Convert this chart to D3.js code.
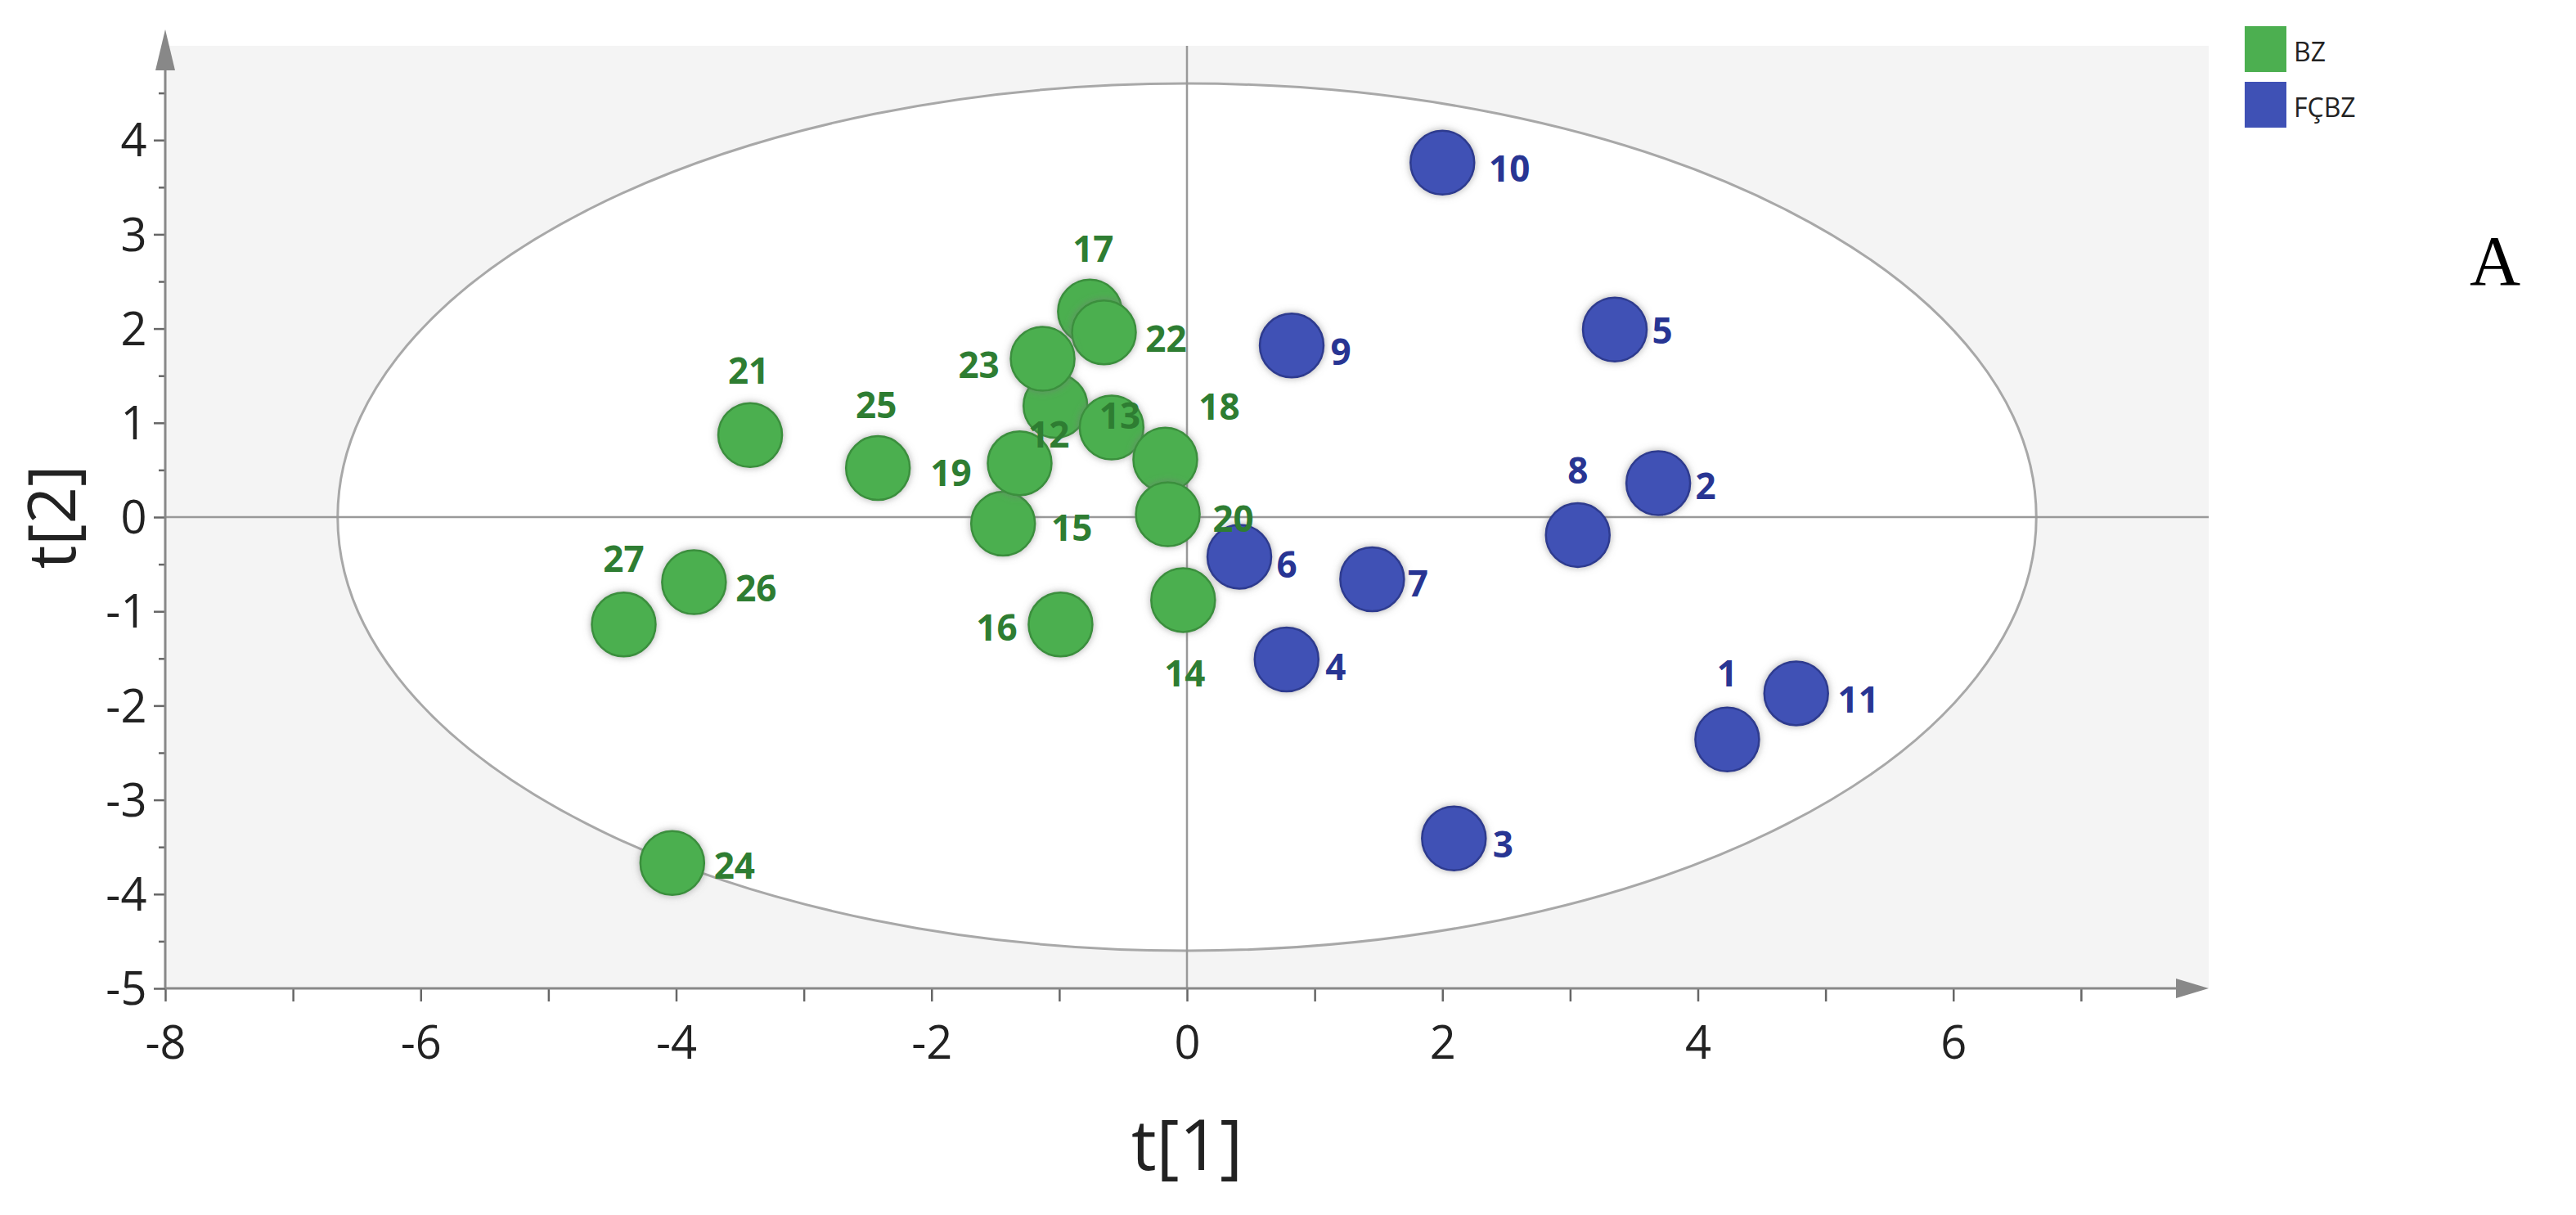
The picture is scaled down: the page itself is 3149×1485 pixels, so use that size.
<!DOCTYPE html>
<html><head><meta charset="utf-8">
<script src="https://cdn.jsdelivr.net/npm/d3@7"></script>
<style>body{margin:0;background:#fff}svg{display:block}</style>
</head><body>
<script>
const ids   = [1,2,3,4,5,6,7,8,9,10,11,12,13,14,15,16,17,18,19,20,21,22,23,24,25,26,27];
const groups= ["FCBZ","FCBZ","FCBZ","FCBZ","FCBZ","FCBZ","FCBZ","FCBZ","FCBZ","FCBZ","FCBZ",
               "BZ","BZ","BZ","BZ","BZ","BZ","BZ","BZ","BZ","BZ","BZ","BZ","BZ","BZ","BZ","BZ"];
const t1 = [4.23,3.69,2.09,0.78,3.35,0.41,1.45,3.06,0.82,2.00,4.77,
            -1.03,-0.59,-0.03,-1.44,-0.99,-0.76,-0.17,-1.31,-0.15,-3.42,-0.65,-1.13,-4.03,-2.42,-3.86,-4.41];
const t2 = [-2.36,0.36,-3.41,-1.51,1.99,-0.42,-0.66,-0.19,1.82,3.76,-1.87,
            1.18,0.95,-0.88,-0.07,-1.14,2.18,0.61,0.57,0.03,0.87,1.96,1.68,-3.67,0.52,-0.69,-1.14];
const legendLabels = ["BZ","FÇBZ"];
const xTicks = [-8,-6,-4,-2,0,2,4,6];
const yTicks = [-5,-4,-3,-2,-1,0,1,2,3,4];
const ellipseR = [6.65, 4.6];
// label placement (pixel offsets, style only)
const labelOff = {1:[0,-80],2:[58,4],3:[60,8],4:[60,10],5:[58,2],6:[58,10],7:[56,6],8:[0,-78],9:[60,8],10:[82,8],11:[76,8],
  12:[-8,36],13:[10,-14],14:[2,90],15:[84,6],16:[-78,4],17:[4,-76],18:[66,-64],19:[-84,12],20:[80,6],21:[-2,-78],22:[76,8],23:[-78,8],24:[76,4],25:[-2,-76],26:[76,8],27:[0,-80]};
const fill = {BZ:"#4caf50",FCBZ:"#3f51b5"}, stroke={BZ:"#3a8f3d",FCBZ:"#2d3b8f"}, lab={BZ:"#2e7d32",FCBZ:"#283593"};

const W=3149,H=1485;
const svg=d3.select("body").append("svg").attr("width",W).attr("height",H);
const L=202,R=2700,T=56,B=1208;
const x=d3.scaleLinear().domain([-8,8]).range([L,R]);
const y=d3.scaleLinear().domain([-5,5]).range([B,T]);
const defs=svg.append("defs");
const f=defs.append("filter").attr("id","glow").attr("x","-50%").attr("y","-50%").attr("width","200%").attr("height","200%");
f.append("feGaussianBlur").attr("in","SourceAlpha").attr("stdDeviation",5).attr("result","b");
f.append("feFlood").attr("flood-color","#777").attr("flood-opacity",0.6);
f.append("feComposite").attr("in2","b").attr("operator","in").attr("result","s");
const m=f.append("feMerge");m.append("feMergeNode").attr("in","s");m.append("feMergeNode").attr("in","SourceGraphic");

svg.append("rect").attr("x",L).attr("y",T).attr("width",R-L).attr("height",B-T).attr("fill","#f4f4f4");
svg.append("ellipse").attr("cx",x(0)).attr("cy",y(0)).attr("rx",x(ellipseR[0])-x(0)).attr("ry",y(0)-y(ellipseR[1]))
  .attr("fill","#fff").attr("stroke","#a8a8a8").attr("stroke-width",3);
svg.append("line").attr("x1",L).attr("x2",R).attr("y1",y(0)).attr("y2",y(0)).attr("stroke","#999").attr("stroke-width",2.5);
svg.append("line").attr("x1",x(0)).attr("x2",x(0)).attr("y1",T).attr("y2",B).attr("stroke","#999").attr("stroke-width",2.5);

// axes
const ax=svg.append("g").attr("transform",`translate(0,${B})`).call(d3.axisBottom(x).tickValues(d3.range(-8,8,1)).tickSize(16).tickFormat(d=>xTicks.includes(d)?d:""));
const ay=svg.append("g").attr("transform",`translate(${L},0)`).call(d3.axisLeft(y).tickValues(d3.range(-5,4.6,0.5)).tickSize(14).tickFormat(d=>yTicks.includes(d)?d:""));
[ax,ay].forEach(g=>{g.select(".domain").remove();g.selectAll("line").attr("stroke","#666").attr("stroke-width",2.5);
  g.selectAll("text").attr("font-family","Open Sans").attr("font-size",56).attr("fill","#222");});
ax.selectAll("text").attr("dy","1.2em");
ay.selectAll("text").attr("dy","0.35em").attr("dx","-0.1em");
ay.selectAll(".tick").filter(d=>!yTicks.includes(d)).select("line").attr("x2",-8);
svg.append("line").attr("x1",L).attr("x2",R-10).attr("y1",B).attr("y2",B).attr("stroke","#888").attr("stroke-width",3);
svg.append("line").attr("x1",L).attr("x2",L).attr("y1",B).attr("y2",T-10).attr("stroke","#888").attr("stroke-width",3);
svg.append("path").attr("d",`M${R-40},${B-12}L${R},${B}L${R-40},${B+12}Z`).attr("fill","#888");
svg.append("path").attr("d",`M${L-12},${T+30}L${L},${T-20}L${L+12},${T+30}Z`).attr("fill","#888");
svg.append("text").attr("x",x(0)).attr("y",1430).attr("text-anchor","middle").attr("font-family","Open Sans").attr("font-size",86).attr("fill","#222").text("t[1]");
svg.append("text").attr("transform",`translate(92,${y(0)}) rotate(-90)`).attr("text-anchor","middle").attr("font-family","Open Sans").attr("font-size",80).attr("fill","#222").text("t[2]");

const data=ids.map((id,i)=>({id,g:groups[i],a:t1[i],b:t2[i]}));
svg.append("g").selectAll("circle").data(data).join("circle")
  .attr("cx",d=>x(d.a)).attr("cy",d=>y(d.b)).attr("r",39).attr("fill",d=>fill[d.g]).attr("stroke",d=>stroke[d.g]).attr("stroke-width",2.5).attr("filter","url(#glow)");
svg.append("g").selectAll("text").data(data).join("text")
  .attr("x",d=>x(d.a)+labelOff[d.id][0]).attr("y",d=>y(d.b)+labelOff[d.id][1]).attr("dy","0.35em").attr("text-anchor","middle")
  .attr("font-family","Open Sans").attr("font-weight",700).attr("font-size",44).attr("fill",d=>lab[d.g]).text(d=>d.id);

// legend
const lg=svg.append("g");
legendLabels.forEach((t,i)=>{
  lg.append("rect").attr("x",2744).attr("y",32+i*68).attr("width",51).attr("height",56).attr("fill",i?fill.FCBZ:fill.BZ);
  lg.append("text").attr("x",2804).attr("y",64+i*68).attr("dy","0.35em").attr("font-family","Open Sans").attr("font-size",32).attr("fill","#222").text(t);
});
svg.append("text").attr("x",3050).attr("y",348).attr("text-anchor","middle").attr("font-family","Liberation Serif").attr("font-size",86).attr("fill","#000").text("A");
</script>
</body></html>
